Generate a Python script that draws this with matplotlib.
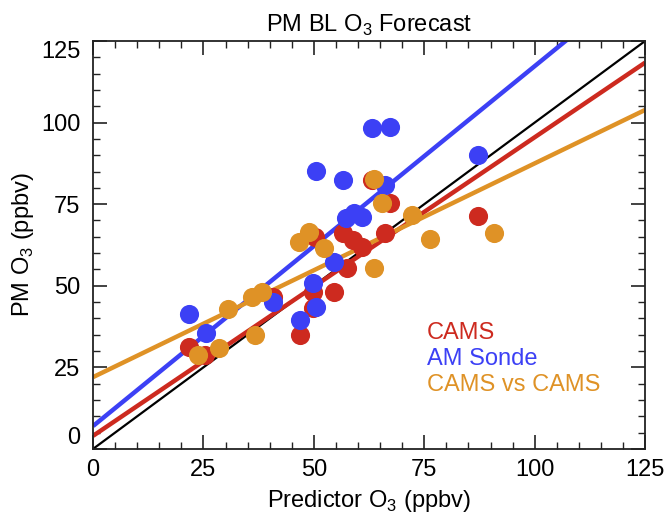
import numpy as np
import matplotlib
matplotlib.use("Agg")
import matplotlib.pyplot as plt
from matplotlib.ticker import MultipleLocator

plt.rcParams['font.family'] = ['Liberation Sans', 'DejaVu Sans']
plt.rcParams['mathtext.fontset'] = 'custom'
plt.rcParams['mathtext.rm'] = 'Liberation Sans'

# CAMS (red)
cams_x = [21.7, 25.4, 46.9, 40.8, 49.8, 49.8, 54.6, 57.5, 56.6, 58.9, 60.9, 50.3, 63.2, 67.3, 66.1, 87.2]
cams_y = [31.3, 28.8, 34.9, 46.6, 48.1, 43.2, 48.1, 55.5, 66.1, 64.0, 61.9, 65.0, 82.4, 75.4, 66.1, 71.4]

# AM Sonde (blue)
sonde_x = [21.7, 25.6, 40.8, 46.9, 50.5, 49.8, 54.6, 50.5, 56.6, 57.3, 59.1, 60.9, 63.2, 67.3, 66.1, 87.2]
sonde_y = [41.4, 35.6, 45.1, 39.5, 43.5, 50.8, 57.3, 85.2, 82.4, 70.8, 72.3, 71.1, 98.3, 98.7, 80.9, 90.1]

# CAMS vs CAMS (orange)
cvc_x = [23.8, 28.5, 30.6, 36.0, 38.3, 36.7, 46.6, 48.9, 52.3, 63.6, 63.6, 65.4, 72.2, 76.3, 90.8]
cvc_y = [28.8, 30.9, 42.9, 46.6, 48.1, 34.9, 63.4, 66.5, 61.6, 55.5, 82.7, 75.4, 71.7, 64.3, 66.1]

# fit lines: (intercept, slope)
cams_fit = (4.0, 0.915)
sonde_fit = (7.0, 1.103)
cvc_fit = (22.0, 0.655)

ticks = [0, 25, 50, 75, 100, 125]

red = '#cd2a1f'
blue = '#3c40f5'
orange = '#df9226'

fig = plt.figure(figsize=(6.65, 5.13), dpi=100)
ax = fig.add_axes([0.140, 0.125, 0.830, 0.795])

xx = np.array([0, 125])
ax.plot(xx, xx, color='black', lw=1.6, zorder=2)
for (b, m), c in [(cams_fit, red), (sonde_fit, blue), (cvc_fit, orange)]:
    ax.plot(xx, b + m * xx, color=c, lw=3.2, zorder=2, solid_capstyle='butt')

ms = 190
ax.scatter(cams_x, cams_y, s=ms, color=red, lw=0, zorder=3)
ax.scatter(sonde_x, sonde_y, s=ms, color=blue, lw=0, zorder=4)
ax.scatter(cvc_x, cvc_y, s=ms, color=orange, lw=0, zorder=5)

ax.set_xlim(0, 125)
ax.set_ylim(0, 125)
ax.set_xticks(ticks)
ax.set_yticks(ticks)
ax.xaxis.set_minor_locator(MultipleLocator(5))
ax.yaxis.set_minor_locator(MultipleLocator(5))
ax.tick_params(which='both', direction='in', top=True, right=True, color='#222222', labelsize=17)
ax.tick_params(which='major', length=10, width=1.2)
ax.tick_params(which='minor', length=5, width=1.0)
ax.tick_params(axis='x', pad=7)
ax.tick_params(axis='y', pad=9)
for s in ax.spines.values():
    s.set_color('#222222')
    s.set_linewidth(1.3)

# end labels on the y axis sit inside the axis range, as in the original
yt = ax.yaxis.get_major_ticks()
yt[0].label1.set_verticalalignment('bottom')
yt[-1].label1.set_verticalalignment('top')

ax.set_title(r'PM BL O$_3$ Forecast', fontsize=17, pad=7)
ax.set_xlabel(r'Predictor O$_3$ (ppbv)', fontsize=17, labelpad=5)
ax.set_ylabel(r'PM O$_3$ (ppbv)', fontsize=17, labelpad=4)

for lbl, c, yy in [('CAMS', red, 0.283), ('AM Sonde', blue, 0.221), ('CAMS vs CAMS', orange, 0.157)]:
    ax.text(0.605, yy, lbl, color=c, fontsize=17, transform=ax.transAxes, va='center', ha='left')

fig.savefig('out.png', dpi=100)
